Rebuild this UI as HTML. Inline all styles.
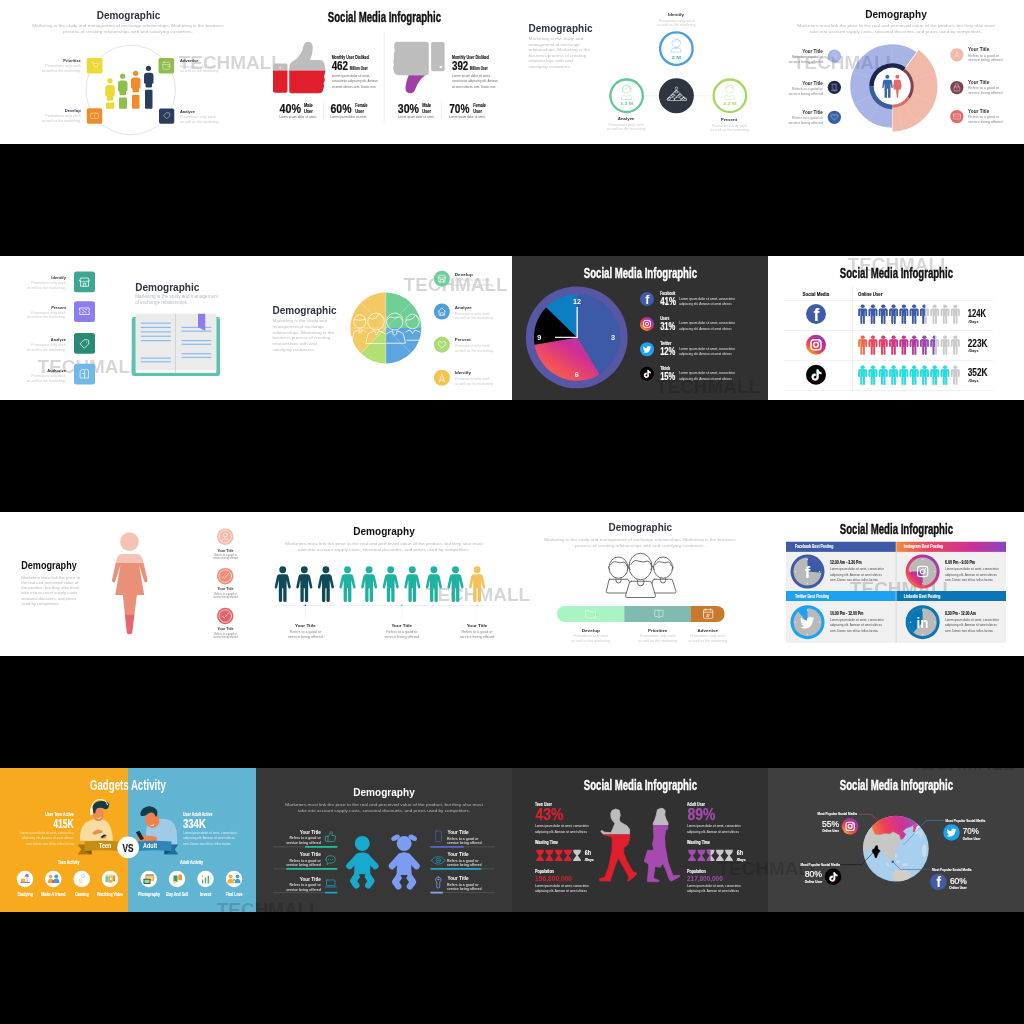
<!DOCTYPE html>
<html lang="en">
<head>
<meta charset="utf-8">
<title>Infographic slides</title>
<style>
html,body{margin:0;padding:0;background:#000;}
body{width:1024px;height:1024px;position:relative;overflow:hidden;font-family:"Liberation Sans",sans-serif;}
.s{position:absolute;width:256px;height:144px;overflow:hidden;display:block;}
svg text{font-family:"Liberation Sans",sans-serif;}
.b{font-weight:bold;}
.m{text-anchor:middle;}
.e{text-anchor:end;}
.c{font-weight:bold;}
#wm{position:absolute;left:0;top:0;width:1024px;height:1024px;pointer-events:none;}
</style>
</head>
<body>
<svg width="0" height="0" style="position:absolute">
<defs>
<linearGradient id="igg" x1="0.150" y1="0.950" x2="0.850" y2="0.050"><stop offset="0" stop-color="#fbb045"/><stop offset=".3" stop-color="#f0503c"/><stop offset=".6" stop-color="#d02e86"/><stop offset="1" stop-color="#7a3fc2"/></linearGradient>
<linearGradient id="igh" x1="0" y1="0" x2="1" y2="0"><stop offset="0" stop-color="#f0503c"/><stop offset=".5" stop-color="#d02e86"/><stop offset="1" stop-color="#7a3fc2"/></linearGradient>
<path id="bird" d="M23.953 4.570a10 10 0 01-2.825.775 4.958 4.958 0 002.163-2.723c-.951.555-2.005.959-3.127 1.184a4.920 4.920 0 00-8.384 4.482C7.690 8.095 4.067 6.130 1.640 3.162a4.822 4.822 0 00-.666 2.475c0 1.710.870 3.213 2.188 4.096a4.904 4.904 0 01-2.228-.616v.060a4.923 4.923 0 003.946 4.827 4.996 4.996 0 01-2.212.085 4.936 4.936 0 004.604 3.417 9.867 9.867 0 01-6.102 2.105c-.390 0-.779-.023-1.170-.067a13.995 13.995 0 007.557 2.209c9.053 0 13.998-7.496 13.998-13.985 0-.210 0-.420-.015-.630A9.935 9.935 0 0024 4.590z"/>
<path id="note" d="M12.525.020c1.310-.020 2.610-.010 3.910-.020.080 1.530.630 3.090 1.750 4.170 1.120 1.110 2.700 1.620 4.240 1.790v4.030c-1.440-.050-2.890-.350-4.200-.970-.570-.260-1.100-.590-1.620-.930-.010 2.920.010 5.840-.020 8.750-.080 1.400-.540 2.790-1.350 3.940-1.310 1.920-3.580 3.170-5.910 3.210-1.430.080-2.860-.310-4.080-1.030-2.020-1.190-3.440-3.370-3.650-5.710-.020-.500-.030-1-.010-1.490.180-1.900 1.120-3.720 2.580-4.960 1.660-1.440 3.980-2.130 6.150-1.720.020 1.480-.040 2.960-.040 4.440-.990-.320-2.150-.230-3.020.370-.630.410-1.110 1.040-1.360 1.750-.210.510-.150 1.070-.140 1.610.240 1.640 1.820 3.020 3.500 2.870 1.120-.010 2.190-.660 2.770-1.610.190-.330.400-.670.410-1.060.100-1.790.060-3.570.070-5.360.010-4.030-.010-8.050.020-12.070z"/>
<g id="fb"><circle cx="50" cy="50" r="50" fill="#3f5ba9"/><text x="52" y="84" font-size="88" font-weight="bold" fill="#fff" text-anchor="middle" font-family="Liberation Sans, sans-serif">f</text></g>
<g id="ig"><circle cx="50" cy="50" r="50" fill="url(#igg)"/><rect x="25" y="25" width="50" height="50" rx="14" fill="none" stroke="#fff" stroke-width="7"/><circle cx="50" cy="50" r="12" fill="none" stroke="#fff" stroke-width="7"/><circle cx="65.500" cy="35" r="4" fill="#fff"/></g>
<g id="tw"><circle cx="50" cy="50" r="50" fill="#1da1f2"/><use href="#bird" fill="#fff" transform="translate(20 21) scale(2.500)"/></g>
<g id="tt"><circle cx="50" cy="50" r="50" fill="#000"/><use href="#note" fill="#25f4ee" transform="translate(23 22) scale(2.300)"/><use href="#note" fill="#fe2c55" transform="translate(27 26) scale(2.300)"/><use href="#note" fill="#fff" transform="translate(25 24) scale(2.300)"/></g>
<g id="pers"><ellipse cx="17.750" cy="7.200" rx="8" ry="7.200"/><path d="M6.500 15.500h22.500q6.500 0 6.500 6.500v20.500a3.500 3.500 0 0 1-7 0v-19h-2v50.500a3.700 3.700 0 0 1-7.400 0v-29h-2.700v29a3.700 3.700 0 0 1-7.400 0v-50.500h-2v19a3.500 3.500 0 0 1-7 0v-20.500q0-6.500 6.500-6.500z"/></g>
<g id="man10"><circle cx="0" cy="13.700" r="13.700"/><path d="M-13 31.300H13Q21 31.300 23 40L32 82Q33 88 28 89Q23 90 22 84L15.500 55V137Q15.500 143 9 143Q2.200 143 2.200 137V88H-2.200V137Q-2.200 143-9 143Q-15.500 143-15.500 137V55L-22 84Q-23 90-28 89Q-33 88-32 82L-23 40Q-21 31.300-13 31.300Z"/></g>
</defs>
</svg>
<svg class="s" style="left:0;top:0" viewBox="0 0 1024 576">
<rect width="1024" height="576" fill="#fff"/>
<text x="715.2" y="276.8" font-size="76.8" font-weight="bold" fill="#000" fill-opacity=".16" textLength="416" lengthAdjust="spacingAndGlyphs">TECHMALL</text>
<text x="514" y="75" class="b m" font-size="45" fill="#2d3443" textLength="254" lengthAdjust="spacingAndGlyphs">Demographic</text>
<g font-size="17" fill="#b4b6ba" class="m">
<text x="512" y="107" textLength="766" lengthAdjust="spacingAndGlyphs">Marketing is the study and management of exchange relationships. Marketing is the business</text>
<text x="512" y="131" textLength="520" lengthAdjust="spacingAndGlyphs">process of creating relationships with and satisfying customers.</text>
</g>
<circle cx="523" cy="360" r="179" fill="none" stroke="#c9cbcf" stroke-width="2.200"/>
<rect x="347" y="232" width="63" height="62" rx="7" fill="#edd935"/>
<rect x="634" y="232" width="62" height="62" rx="7" fill="#8fbe4c"/>
<rect x="347" y="433" width="62" height="62" rx="7" fill="#f18b27"/>
<rect x="636" y="434" width="61" height="61" rx="7" fill="#2b3c5e"/>
<g fill="none" stroke="#fff" stroke-width="2.6" stroke-linecap="round" stroke-linejoin="round" opacity=".7">
<path d="M367 250h5l4 16h14l3-12h-18M377 274v1M389 274v1"/>
<rect x="651" y="249" width="28" height="28" rx="5"/><path d="M651 258h28M671 266h8"/>
<rect x="362" y="453" width="32" height="21" rx="4"/><path d="M378 460v7"/>
<path d="M655 462l10-11h11l3 4v9l-11 10z"/>
</g>
<g fill="#ecd934"><circle cx="440" cy="323" r="10.5"/><path d="M421 352a12 12 0 0 1 12-12h14a12 12 0 0 1 12 12v26a6 6 0 0 1-6 6v14a5 5 0 0 1-5 5h-16a5 5 0 0 1-5-5v-14a6 6 0 0 1-6-6z"/><rect x="424" y="410" width="33" height="25" rx="4"/></g>
<g fill="#8fbe4c"><circle cx="490.5" cy="304.500" r="10.5"/><path d="M472 334a12 12 0 0 1 12-12h14a12 12 0 0 1 12 12v26a6 6 0 0 1-6 6v10a5 5 0 0 1-5 5h-16a5 5 0 0 1-5-5v-10a6 6 0 0 1-6-6z"/><rect x="476" y="390" width="32" height="45" rx="4"/></g>
<g fill="#f18b27"><circle cx="542.5" cy="293" r="10.5"/><path d="M524 322a12 12 0 0 1 12-12h14a12 12 0 0 1 12 12v26a6 6 0 0 1-6 6v10a5 5 0 0 1-5 5h-16a5 5 0 0 1-5-5v-10a6 6 0 0 1-6-6z"/><rect x="528" y="379" width="30" height="56" rx="4"/></g>
<g fill="#2b3c5e"><circle cx="594" cy="273" r="10.5"/><path d="M576 303a12 12 0 0 1 12-12h14a12 12 0 0 1 12 12v26a6 6 0 0 1-6 6v10a5 5 0 0 1-5 5h-16a5 5 0 0 1-5-5v-10a6 6 0 0 1-6-6z"/><rect x="580" y="359" width="30" height="76" rx="4"/></g>
<g font-size="16" class="b" fill="#2d3443">
<text x="323" y="247" class="e" textLength="70" lengthAdjust="spacingAndGlyphs">Prioritize</text>
<text x="720" y="248" textLength="74" lengthAdjust="spacingAndGlyphs">Advertise</text>
<text x="323" y="448" class="e" textLength="64" lengthAdjust="spacingAndGlyphs">Develop</text>
<text x="720" y="451" textLength="60" lengthAdjust="spacingAndGlyphs">Analyze</text>
</g>
<g font-size="14" fill="#c6c8cb">
<text x="323" y="268" class="e" textLength="142" lengthAdjust="spacingAndGlyphs">Promotions only work</text>
<text x="323" y="286" class="e" textLength="156" lengthAdjust="spacingAndGlyphs">as well as the marketing.</text>
<text x="720" y="271" textLength="142" lengthAdjust="spacingAndGlyphs">Promotions only work</text>
<text x="720" y="289" textLength="154" lengthAdjust="spacingAndGlyphs">as well as the marketing</text>
<text x="323" y="469" class="e" textLength="142" lengthAdjust="spacingAndGlyphs">Promotions only work</text>
<text x="323" y="487" class="e" textLength="156" lengthAdjust="spacingAndGlyphs">as well as the marketing.</text>
<text x="720" y="473" textLength="142" lengthAdjust="spacingAndGlyphs">Promotions only work</text>
<text x="720" y="491" textLength="154" lengthAdjust="spacingAndGlyphs">as well as the marketing</text>
</g>
</svg>
<svg class="s" style="left:256px;top:0" viewBox="0 0 1024 576">
<defs>
<clipPath id="cu2a"><rect x="0" y="0" width="520" height="281.500"/></clipPath>
<clipPath id="cu2b"><rect x="0" y="281.500" width="520" height="200"/></clipPath>
<g id="tup"><rect x="68" y="254" width="58" height="117" rx="7"/><path d="M141 373H250Q268 373 268 358Q275 345 270 334Q279 320 272 307Q281 285 275 262Q272 240 255 240H216Q228 215 227 190Q226 167 209 167Q195 167 190 185Q182 218 158 238Q133 250 133 270V365Q133 373 141 373Z"/></g>
</defs>
<rect width="1024" height="576" fill="#fff"/>
<text x="-308.8" y="276.8" font-size="76.8" font-weight="bold" fill="#000" fill-opacity=".16" textLength="416" lengthAdjust="spacingAndGlyphs">TECHMALL</text>
<text x="513.500" y="89" class="b m" font-size="59" fill="#111" stroke="#111" stroke-width="1.700" textLength="453" lengthAdjust="spacingAndGlyphs">Social Media Infographic</text>
<rect x="511" y="125" width="2.500" height="365" fill="#e2e2e2"/>
<use href="#tup" fill="#bdbdbd" clip-path="url(#cu2a)"/>
<use href="#tup" fill="#e01f2d" clip-path="url(#cu2b)"/>
<rect x="92" y="266" width="9" height="9" rx="2" fill="#d9d9d9"/>
<g fill="#bdbdbd"><path d="M560 167H680Q691 167 691 178V290Q691 300.500 680 300.500H572Q553 300.500 551 284Q546 270 552 258Q546 243 553 232Q548 215 555 204Q552 190 553 180Q554 167 566 167Z"/><rect x="700.500" y="168" width="54" height="117" rx="7"/></g>
<circle cx="739" cy="267.500" r="5" fill="#fff"/>
<path d="M611 300.500H677Q650 320 638 355Q632 373 616 373Q599 372 598 355Q598 330 611 300.500Z" fill="#a13fa6"/>
<g fill="#111" class="b" stroke="#111" stroke-width=".45">
<text x="302.500" y="235" font-size="20" textLength="149" lengthAdjust="spacingAndGlyphs">Monthly User Disliked</text>
<text x="302.500" y="280" font-size="49" stroke="#111" stroke-width=".7" textLength="66" lengthAdjust="spacingAndGlyphs">462</text>
<text x="375" y="279" font-size="19" textLength="72" lengthAdjust="spacingAndGlyphs">Million User</text>
<text x="784" y="235" font-size="20" textLength="148" lengthAdjust="spacingAndGlyphs">Monthly User Disliked</text>
<text x="784" y="280" font-size="49" stroke="#111" stroke-width=".7" textLength="65" lengthAdjust="spacingAndGlyphs">392</text>
<text x="855" y="279" font-size="19" textLength="72" lengthAdjust="spacingAndGlyphs">Million User</text>
<text x="94" y="450.500" font-size="52" stroke="#111" stroke-width=".7" textLength="86" lengthAdjust="spacingAndGlyphs">40%</text>
<text x="192" y="429" font-size="18" textLength="35" lengthAdjust="spacingAndGlyphs">Male</text>
<text x="192" y="453" font-size="18" textLength="35" lengthAdjust="spacingAndGlyphs">User</text>
<text x="298" y="450.500" font-size="52" stroke="#111" stroke-width=".7" textLength="84" lengthAdjust="spacingAndGlyphs">60%</text>
<text x="397" y="429" font-size="18" textLength="49" lengthAdjust="spacingAndGlyphs">Female</text>
<text x="397" y="453" font-size="18" textLength="35" lengthAdjust="spacingAndGlyphs">User</text>
<text x="567" y="450.500" font-size="52" stroke="#111" stroke-width=".7" textLength="85" lengthAdjust="spacingAndGlyphs">30%</text>
<text x="665" y="429" font-size="18" textLength="35" lengthAdjust="spacingAndGlyphs">Male</text>
<text x="665" y="453" font-size="18" textLength="35" lengthAdjust="spacingAndGlyphs">User</text>
<text x="773" y="450.500" font-size="52" stroke="#111" stroke-width=".7" textLength="81" lengthAdjust="spacingAndGlyphs">70%</text>
<text x="869" y="429" font-size="18" textLength="50" lengthAdjust="spacingAndGlyphs">Female</text>
<text x="869" y="453" font-size="18" textLength="35" lengthAdjust="spacingAndGlyphs">User</text>
</g>
<g fill="#6a6a6a" font-size="12.500">
<text x="302.500" y="306" textLength="154" lengthAdjust="spacingAndGlyphs">Lorem ipsum dolor sit amet,</text>
<text x="302.500" y="329" textLength="185" lengthAdjust="spacingAndGlyphs">consectetur adipiscing elit. Aenean</text>
<text x="302.500" y="352" textLength="176" lengthAdjust="spacingAndGlyphs">sit amet ultrices sem. Donec non</text>
<text x="784" y="306" textLength="154" lengthAdjust="spacingAndGlyphs">Lorem ipsum dolor sit amet,</text>
<text x="784" y="329" textLength="183" lengthAdjust="spacingAndGlyphs">consectetur adipiscing elit. Aenean</text>
<text x="784" y="352" textLength="174" lengthAdjust="spacingAndGlyphs">sit amet ultrices sem. Donec non</text>
<text x="94" y="472" textLength="148" lengthAdjust="spacingAndGlyphs">Lorem ipsum dolor sit amet,</text>
<text x="297" y="472" textLength="147" lengthAdjust="spacingAndGlyphs">Lorem ipsum dolor sit amet,</text>
<text x="567" y="472" textLength="147" lengthAdjust="spacingAndGlyphs">Lorem ipsum dolor sit amet,</text>
<text x="773" y="472" textLength="145" lengthAdjust="spacingAndGlyphs">Lorem ipsum dolor sit amet,</text>
</g>
<g stroke="#b5b5b5" stroke-width="1.500" stroke-dasharray="5 4"><path d="M270.500 406V478M741.500 406V478"/></g>
</svg>
<svg class="s" style="left:512px;top:0" viewBox="0 0 1024 576">
<rect width="1024" height="576" fill="#fff"/>
<text x="66" y="127" class="b" font-size="45" fill="#2d3443" textLength="256" lengthAdjust="spacingAndGlyphs">Demographic</text>
<g font-size="17.500" fill="#b9bbbf">
<text x="66" y="159" textLength="219" lengthAdjust="spacingAndGlyphs">Marketing is the study and</text>
<text x="66" y="182" textLength="205" lengthAdjust="spacingAndGlyphs">management of exchange</text>
<text x="66" y="204" textLength="246" lengthAdjust="spacingAndGlyphs">relationships. Marketing is the</text>
<text x="66" y="227" textLength="231" lengthAdjust="spacingAndGlyphs">business process of creating</text>
<text x="66" y="249" textLength="177" lengthAdjust="spacingAndGlyphs">relationships with and</text>
<text x="66" y="273" textLength="170" lengthAdjust="spacingAndGlyphs">satisfying customers.</text>
</g>
<g stroke="#e3e4e6" stroke-width="2"><path d="M657.500 262V315M527 383H590M726 383H803"/></g>
<circle cx="657.500" cy="194.500" r="65" fill="#fff" stroke="#4d9edb" stroke-width="9.500"/>
<circle cx="458.500" cy="383" r="65" fill="#fff" stroke="#5fca8f" stroke-width="9.500"/>
<circle cx="871.500" cy="383" r="65" fill="#fff" stroke="#a6d860" stroke-width="9.500"/>
<circle cx="657.500" cy="383" r="70" fill="#2f3540"/>
<g fill="none" stroke-width="1.800" stroke-linejoin="round">
<g stroke="#7db7e4"><circle cx="657" cy="172" r="17"/><path d="M638 208v-6q0-8 10-10h18q10 2 10 10v6zM649 190q8 6 16 0M646 166q11-2 13-10q6 8 15 10"/></g>
<g stroke="#93dbb3"><circle cx="458" cy="357" r="16"/><path d="M438 398v-8q0-8 12-11l8 8l8-8q12 3 12 11v8zM443 366q-6-22 12-27q17-4 22 14l-2 14M447 357q12 0 16-10q5 6 12 8"/></g>
<g stroke="#c9e79e"><circle cx="870" cy="357" r="16"/><path d="M849 398v-8q0-8 12-11l9 10l9-10q12 3 12 11v8zM854 352q2-16 16-16q14 0 16 16q-16 2-22-8q-3 6-10 8z"/></g>
<g stroke="#fff" stroke-width="2.200"><path d="M622 402v-8l9-5h10l9 5v8zM650 402v-8l9-5h-3h10l9 5v8zM678 402v-8l9-5h-4h6l9 5v8z"/><path d="M632 386l12-12l12 12M660 386l12-12l12 12M646 372l12-12l12 12M618 398l14-12M698 398l-14-12M644 374l-12 12M672 374l-12 12M658 360l-12 12"/><circle cx="644" cy="381" r="5"/><circle cx="672" cy="381" r="5"/><circle cx="658" cy="367" r="5"/><circle cx="658" cy="353" r="5"/><circle cx="630" cy="394" r="4"/><circle cx="686" cy="394" r="4"/></g>
</g>
<g class="b m" font-size="17">
<text x="657.500" y="236" fill="#4d9edb" textLength="38" lengthAdjust="spacingAndGlyphs">2 M</text>
<text x="458.500" y="421" fill="#5fca8f" textLength="52" lengthAdjust="spacingAndGlyphs">1.3 M</text>
<text x="871.500" y="421" fill="#a6d860" textLength="54" lengthAdjust="spacingAndGlyphs">2.2 M</text>
</g>
<g class="b m" font-size="17" fill="#2d3443">
<text x="656" y="62" textLength="64" lengthAdjust="spacingAndGlyphs">Identify</text>
<text x="456" y="480" textLength="66" lengthAdjust="spacingAndGlyphs">Analyze</text>
<text x="868" y="484" textLength="66" lengthAdjust="spacingAndGlyphs">Present</text>
</g>
<g class="m" font-size="14" fill="#c9cbce">
<text x="659" y="88" textLength="142" lengthAdjust="spacingAndGlyphs">Promotions only work</text>
<text x="657" y="105" textLength="154" lengthAdjust="spacingAndGlyphs">as well as the marketing</text>
<text x="457" y="502" textLength="142" lengthAdjust="spacingAndGlyphs">Promotions only work</text>
<text x="457" y="521" textLength="154" lengthAdjust="spacingAndGlyphs">as well as the marketing</text>
<text x="870" y="507" textLength="142" lengthAdjust="spacingAndGlyphs">Promotions only work</text>
<text x="870" y="525" textLength="154" lengthAdjust="spacingAndGlyphs">as well as the marketing</text>
</g>
</svg>
<svg class="s" style="left:768px;top:0" viewBox="0 0 1024 576">
<rect width="1024" height="576" fill="#fff"/>
<text x="100.0" y="276.8" font-size="76.8" font-weight="bold" fill="#000" fill-opacity=".16" textLength="416" lengthAdjust="spacingAndGlyphs">TECHMALL</text>
<text x="512" y="70" class="b m" font-size="43" fill="#111" textLength="246" lengthAdjust="spacingAndGlyphs">Demography</text>
<g font-size="17" fill="#b4b6ba" class="m">
<text x="512" y="107" textLength="790" lengthAdjust="spacingAndGlyphs">Marketers must link the price to the real and perceived value of the product, but they also must</text>
<text x="512" y="131" textLength="688" lengthAdjust="spacingAndGlyphs">take into account supply costs, seasonal discounts, and prices used by competitors.</text>
</g>
<path d="M496 344L496.0 511.0A167 167 0 1 1 593.2 208.2Z" fill="#3f58c8" fill-opacity=".45"/>
<path d="M498 346L602.8 199.6A180 180 0 0 1 498.0 526.0Z" fill="#f1baa8"/>
<g stroke="#fff" stroke-width="1.200" opacity=".35"><path d="M496 344V177M496 344L340 285M496 344L345 415M496 344L400 480M498 346L670 290M498 346L665 410M498 346L600 495M498 346L540 520"/></g>
<circle cx="497" cy="345" r="75" fill="#fff"/>
<path d="M405.0 345.0A92 92 0 0 1 550.600 270.200L540.100 284.800A74 74 0 0 0 423.0 345.0Z" fill="#1c254a"/>
<path d="M497.0 437.0A92 92 0 0 1 405.0 345.0L423.0 345.0A74 74 0 0 0 497.0 419.0Z" fill="#365f9f"/>
<path d="M547.100 275.100A86 86 0 0 1 567.400 394.300L557.600 387.400A74 74 0 0 0 540.100 284.800Z" fill="#7d444d"/>
<path d="M567.400 394.300A86 86 0 0 1 497.0 431.0L497.0 419.0A74 74 0 0 0 557.600 387.400Z" fill="#df6a6c"/>
<g fill="#3a67a6"><circle cx="477.500" cy="306.500" r="8"/><path d="M466 319h23q6 0 7 6l3 27h-5l-4-20v59h-10v-36h-4v36h-10v-59l-4 20h-5l3-27q1-6 7-6z"/></g>
<g fill="#e26a6a"><circle cx="517.500" cy="306.500" r="8"/><path d="M509 319h17q4 0 5 5l4 26h-4l-4-18l6 26h-10l-3 33h-5l-3-33h-10l6-26l-4 18h-4l4-26q1-5 5-5z"/></g>
<circle cx="265.500" cy="224.500" r="26.500" fill="#3f58c8" fill-opacity=".45"/>
<circle cx="265.500" cy="349.500" r="26.500" fill="#1c254a"/>
<circle cx="265.500" cy="469" r="26.500" fill="#365f9f"/>
<circle cx="755.500" cy="219" r="26.500" fill="#f1baa8"/>
<circle cx="755.500" cy="350" r="26.500" fill="#7d444d"/>
<circle cx="755.500" cy="466" r="26.500" fill="#df6a6c"/>
<g fill="none" stroke="#fff" stroke-width="2" stroke-linejoin="round" stroke-linecap="round" opacity=".85">
<path d="M265.500 208a10 10 0 0 1 6 18v6h-12v-6a10 10 0 0 1 6-18zM262 222l3.500 5l3.500-5" opacity=".7"/>
<path d="M258 337h15v20l4 4h-23l4-4zM262 363h7"/>
<path d="M265.500 461q8-9 14 0q3 7-14 19q-17-12-14-19q6-9 14 0z"/>
<path d="M747 231l8.500-24l8.500 24M750 224h11" opacity=".8"/>
<rect x="744" y="347" width="23" height="17" rx="3"/><path d="M749 347v-5a6.500 6.500 0 0 1 13 0v5M755.500 353v5"/>
<rect x="741" y="456" width="29" height="20" rx="3"/><path d="M741 460l7 6h15l7-6"/>
</g>
<g class="b" font-size="19.500" fill="#2c2c2e">
<text x="219" y="210.500" class="e" textLength="82" lengthAdjust="spacingAndGlyphs">Your Title</text>
<text x="219" y="339" class="e" textLength="82" lengthAdjust="spacingAndGlyphs">Your Title</text>
<text x="219" y="455.500" class="e" textLength="82" lengthAdjust="spacingAndGlyphs">Your Title</text>
<text x="800" y="203.500" textLength="85" lengthAdjust="spacingAndGlyphs">Your Title</text>
<text x="800" y="335" textLength="85" lengthAdjust="spacingAndGlyphs">Your Title</text>
<text x="800" y="450" textLength="85" lengthAdjust="spacingAndGlyphs">Your Title</text>
</g>
<g font-size="14" fill="#85878c">
<text x="219" y="233" class="e" textLength="123" lengthAdjust="spacingAndGlyphs">Refers to a good or</text>
<text x="219" y="252" class="e" textLength="137" lengthAdjust="spacingAndGlyphs">service being offered</text>
<text x="219" y="361" class="e" textLength="123" lengthAdjust="spacingAndGlyphs">Refers to a good or</text>
<text x="219" y="380" class="e" textLength="137" lengthAdjust="spacingAndGlyphs">service being offered</text>
<text x="219" y="477" class="e" textLength="123" lengthAdjust="spacingAndGlyphs">Refers to a good or</text>
<text x="219" y="496" class="e" textLength="137" lengthAdjust="spacingAndGlyphs">service being offered</text>
<text x="800" y="226" textLength="124" lengthAdjust="spacingAndGlyphs">Refers to a good or</text>
<text x="800" y="245" textLength="138" lengthAdjust="spacingAndGlyphs">service being offered</text>
<text x="800" y="357" textLength="124" lengthAdjust="spacingAndGlyphs">Refers to a good or</text>
<text x="800" y="375" textLength="138" lengthAdjust="spacingAndGlyphs">service being offered</text>
<text x="800" y="472" textLength="124" lengthAdjust="spacingAndGlyphs">Refers to a good or</text>
<text x="800" y="491" textLength="138" lengthAdjust="spacingAndGlyphs">service being offered</text>
</g>
</svg>
<svg class="s" style="left:0;top:256px" viewBox="0 0 1024 576">
<rect width="1024" height="576" fill="#fff"/>
<text x="150.4" y="466.8" font-size="76.8" font-weight="bold" fill="#000" fill-opacity=".16" textLength="416" lengthAdjust="spacingAndGlyphs">TECHMALL</text>
<rect x="296" y="62" width="84" height="83" rx="10" fill="#3da793"/>
<rect x="296" y="180.500" width="84" height="83" rx="10" fill="#8b7cf0"/>
<rect x="296" y="308" width="84" height="83" rx="10" fill="#2a8a75"/>
<rect x="296" y="430.500" width="84" height="83" rx="10" fill="#72b8e6"/>
<g fill="none" stroke="#fff" stroke-width="3" stroke-linejoin="round" stroke-linecap="round">
<path d="M322 99v22h32v-22M318 99l5-11h30l5 11q-3 5-8 2q-4 4-8 0q-4 4-8 0q-4 4-8 0q-5 3-8-2zM333 121v-12h10v12"/>
<path d="M319 208h38v9q-5 3 0 8v9h-38v-9q5-4 0-8zM328 214l18 14M329 227h4M342 215h5"/>
<path d="M322 350l14-15h14q4 0 5 5v12l-16 15q-3 2-5 0zM346 344v1"/>
<path d="M322 458l8-5q8 6 16 0l8 5v30h-32zM338 460v28M330 470h5" opacity=".9"/>
</g>
<g class="b e" font-size="16.500" fill="#2d3443">
<text x="264" y="92" textLength="59" lengthAdjust="spacingAndGlyphs">Identify</text>
<text x="264" y="210.500" textLength="59" lengthAdjust="spacingAndGlyphs">Present</text>
<text x="264" y="339.500" textLength="61" lengthAdjust="spacingAndGlyphs">Analyze</text>
<text x="264" y="463" textLength="75" lengthAdjust="spacingAndGlyphs">Authorize</text>
</g>
<g class="e" font-size="14" fill="#c9cbce">
<text x="262.500" y="113" textLength="138" lengthAdjust="spacingAndGlyphs">Promotions only work</text>
<text x="262.500" y="131" textLength="156" lengthAdjust="spacingAndGlyphs">as well as the marketing.</text>
<text x="262.500" y="231" textLength="138" lengthAdjust="spacingAndGlyphs">Promotions only work</text>
<text x="262.500" y="249" textLength="156" lengthAdjust="spacingAndGlyphs">as well as the marketing.</text>
<text x="262.500" y="360" textLength="138" lengthAdjust="spacingAndGlyphs">Promotions only work</text>
<text x="262.500" y="378" textLength="156" lengthAdjust="spacingAndGlyphs">as well as the marketing.</text>
<text x="262.500" y="483" textLength="138" lengthAdjust="spacingAndGlyphs">Promotions only work</text>
<text x="262.500" y="502" textLength="156" lengthAdjust="spacingAndGlyphs">as well as the marketing.</text>
</g>
<text x="541" y="140" class="b" font-size="45" fill="#2d3443" textLength="256" lengthAdjust="spacingAndGlyphs">Demographic</text>
<g font-size="18.500" fill="#b9bbbf">
<text x="541" y="169" textLength="331" lengthAdjust="spacingAndGlyphs">Marketing is the study and management</text>
<text x="541" y="193" textLength="211" lengthAdjust="spacingAndGlyphs">of exchange relationships.</text>
</g>
<rect x="527" y="244" width="353" height="236" rx="9" fill="#5ec2b2"/>
<rect x="543" y="230.500" width="322" height="237" fill="#fff"/>
<rect x="543" y="230.500" width="322" height="227" fill="#ebebeb"/>
<rect x="701" y="230.500" width="2" height="237" fill="#bdbdbd"/>
<g stroke="#dce9f5" stroke-width="8"><path d="M563 268.500H683M563 285.500H683M563 303.500H683M563 321H683M563 338.500H683M563 408.500H683M563 423H683M726 285.500H845M726 300.500H845M726 338.500H845M726 353H845M726 391H845M726 405.500H845"/></g>
<g stroke="#7aafe0" stroke-width="3.600"><path d="M563 268.500H683M563 285.500H683M563 303.500H683M563 321H683M563 338.500H683M563 408.500H683M563 423H683M726 285.500H845M726 300.500H845M726 338.500H845M726 353H845M726 391H845M726 405.500H845"/></g>
<path d="M792 230.500H821V298.500L792 285Z" fill="#8b7cf0"/>
</svg>
<svg class="s" style="left:256px;top:256px" viewBox="0 0 1024 576">
<rect width="1024" height="576" fill="#fff"/>
<text x="590.4" y="139.2" font-size="76.8" font-weight="bold" fill="#000" fill-opacity=".16" textLength="416" lengthAdjust="spacingAndGlyphs">TECHMALL</text>
<text x="66" y="233" class="b" font-size="45" fill="#2d3443" textLength="256" lengthAdjust="spacingAndGlyphs">Demographic</text>
<g font-size="17.500" fill="#b9bbbf">
<text x="66" y="264" textLength="219" lengthAdjust="spacingAndGlyphs">Marketing is the study and</text>
<text x="66" y="288" textLength="205" lengthAdjust="spacingAndGlyphs">management of exchange</text>
<text x="66" y="310" textLength="246" lengthAdjust="spacingAndGlyphs">relationships. Marketing is the</text>
<text x="66" y="333" textLength="231" lengthAdjust="spacingAndGlyphs">business process of creating</text>
<text x="66" y="356" textLength="177" lengthAdjust="spacingAndGlyphs">relationships with and</text>
<text x="66" y="379" textLength="170" lengthAdjust="spacingAndGlyphs">satisfying customers.</text>
</g>
<path d="M519.500 288L419.100 388.400A142 142 0 0 1 519.500 146.0Z" fill="#f3c963"/>
<path d="M519.500 288L519.500 146.0A142 142 0 0 1 661.500 288.0Z" fill="#70cf98"/>
<path d="M519.500 288L661.500 288.0A142 142 0 0 1 519.500 430.0Z" fill="#5ba5e0"/>
<path d="M519.500 288L519.500 430.0A142 142 0 0 1 419.100 388.400Z" fill="#b3e072"/>
<g stroke="#fff" stroke-width="2" opacity=".5"><path d="M519.500 146V430M419 187.500L620 388.500M620 187.500L419 388.500M378 288H519"/></g>
<g fill="none" stroke="#fffbe8" stroke-width="3.500" stroke-linejoin="round" opacity=".9">
<path d="M391 262a24 27 0 0 1 48 0a24 27 0 0 1-48 0zM393 254q22 6 44 0M385 337l6-32q14-8 22-10v10q2 8 8 0v-10q10 3 20 9"/>
<path d="M447 262a33 34 0 0 1 66 0a33 34 0 0 1-66 0zM452 250q30 8 42-22q8 14 18 22M439 350l9-38q16-10 26-13l8 18l8-18q14 4 26 12M439 350h79"/>
<path d="M522 262a33 34 0 0 1 66 0a33 34 0 0 1-66 0zM524 256q6-10 14-12q20 8 36 0q8 4 12 14M521 312q16-10 26-13v12q8 12 16 0v-12q14 4 26 12l9 38h-77"/>
<path d="M599 262a27 29 0 0 1 54 0a27 29 0 0 1-54 0zM600 256q28 2 38-20q8 10 14 18M598 305q8-6 18-9l10 14l10-14q12 4 22 10M601 337h56"/>
</g>
<circle cx="743.500" cy="90.500" r="32" fill="#70cf98"/>
<circle cx="743.500" cy="222" r="32" fill="#4d9edb"/>
<circle cx="743.500" cy="354.500" r="32" fill="#a9dc72"/>
<circle cx="743.500" cy="487" r="32" fill="#f3c451"/>
<g fill="none" stroke="#fff" stroke-width="2.600" stroke-linejoin="round" stroke-linecap="round">
<path d="M729 86l3-9h23l3 9zM731 86v18h25v-18M737 104v-10h13v10"/>
<path d="M729 222l14.500-14l14.500 14M732 220v17h23v-17M738 237v-10h11v10"/>
<path d="M743.500 346q8-10 15-1q4 9-15 23q-19-14-15-23q7-9 15 1z"/>
<path d="M733 503l10.500-32l10.500 32l-10.500-8z"/>
</g>
<g class="b" font-size="17" fill="#2d3443">
<text x="795" y="78" textLength="72" lengthAdjust="spacingAndGlyphs">Develop</text>
<text x="795" y="211" textLength="68" lengthAdjust="spacingAndGlyphs">Analyze</text>
<text x="795" y="341.500" textLength="64" lengthAdjust="spacingAndGlyphs">Present</text>
<text x="795" y="473" textLength="65" lengthAdjust="spacingAndGlyphs">Identify</text>
</g>
<g font-size="14" fill="#c9cbce">
<text x="795" y="101" textLength="140" lengthAdjust="spacingAndGlyphs">Promotions only work</text>
<text x="795" y="119.500" textLength="153" lengthAdjust="spacingAndGlyphs">as well as the marketing</text>
<text x="795" y="234" textLength="140" lengthAdjust="spacingAndGlyphs">Promotions only work</text>
<text x="795" y="252" textLength="153" lengthAdjust="spacingAndGlyphs">as well as the marketing</text>
<text x="795" y="364" textLength="140" lengthAdjust="spacingAndGlyphs">Promotions only work</text>
<text x="795" y="382.500" textLength="153" lengthAdjust="spacingAndGlyphs">as well as the marketing</text>
<text x="795" y="494" textLength="140" lengthAdjust="spacingAndGlyphs">Promotions only work</text>
<text x="795" y="514" textLength="153" lengthAdjust="spacingAndGlyphs">as well as the marketing</text>
</g>
</svg>
<svg class="s" style="left:512px;top:256px" viewBox="0 0 1024 576">
<defs><linearGradient id="g7" x1="0.100" y1="0.900" x2="0.900" y2="0.100"><stop offset="0" stop-color="#fb6a45"/><stop offset=".35" stop-color="#ee4a62"/><stop offset=".7" stop-color="#cc2f96"/><stop offset="1" stop-color="#b03aa8"/></linearGradient></defs>
<rect width="1024" height="576" fill="#313131"/>
<text x="576.0" y="546.4" font-size="76.8" font-weight="bold" fill="#000" fill-opacity=".16" textLength="416" lengthAdjust="spacingAndGlyphs">TECHMALL</text>
<text x="513.500" y="89" class="b m" font-size="59" fill="#fff" stroke="#fff" stroke-width="1.700" textLength="453" lengthAdjust="spacingAndGlyphs">Social Media Infographic</text>
<circle cx="259" cy="325.500" r="203.500" fill="#5757a4"/>
<path d="M260.750 325.700L260.800 152.700A173 173 0 0 1 350.100 473.800Z" fill="#3c5aa6"/>
<path d="M260.750 325.700L350.100 473.800A173 173 0 0 1 90.200 354.600Z" fill="url(#g7)"/>
<path d="M260.750 325.700L90.200 354.600A173 173 0 0 1 136.900 204.900Z" fill="#000"/>
<path d="M260.750 325.700L136.900 204.900A173 173 0 0 1 260.700 152.700Z" fill="#0b7ec4"/>
<path d="M260.750 204V325.700H172" fill="none" stroke="#f2f2f2" stroke-width="5.500"/>
<g class="b m" font-size="29" fill="#fff">
<text x="260" y="192">12</text><text x="404.500" y="335">3</text><text x="259" y="484">6</text><text x="109.500" y="335">9</text>
</g>
<use href="#fb" transform="translate(512 144) scale(.56)"/>
<use href="#ig" transform="translate(512 243.500) scale(.56)"/>
<use href="#tw" transform="translate(512 345) scale(.56)"/>
<use href="#tt" transform="translate(512 442.500) scale(.56)"/>
<g class="b" fill="#fff">
<g font-size="18" stroke="#fff" stroke-width=".45">
<text x="592.500" y="157" textLength="61" lengthAdjust="spacingAndGlyphs">Facebook</text>
<text x="592.500" y="255" textLength="37" lengthAdjust="spacingAndGlyphs">Users</text>
<text x="592.500" y="355.500" textLength="45" lengthAdjust="spacingAndGlyphs">Twitter</text>
<text x="592.500" y="455.500" textLength="40" lengthAdjust="spacingAndGlyphs">Tiktok</text>
</g>
<g font-size="42" stroke="#fff" stroke-width=".6">
<text x="592.500" y="196" textLength="63" lengthAdjust="spacingAndGlyphs">41%</text>
<text x="592.500" y="295" textLength="61" lengthAdjust="spacingAndGlyphs">31%</text>
<text x="592.500" y="395.500" textLength="61" lengthAdjust="spacingAndGlyphs">12%</text>
<text x="592.500" y="494" textLength="61" lengthAdjust="spacingAndGlyphs">15%</text>
</g>
</g>
<g font-size="12.500" fill="#e4e4e4">
<text x="669" y="175" textLength="223" lengthAdjust="spacingAndGlyphs">Lorem ipsum dolor sit amet, consectetur</text>
<text x="669" y="196" textLength="210" lengthAdjust="spacingAndGlyphs">adipiscing elit. Aenean sit amet ultrices</text>
<text x="669" y="273.500" textLength="223" lengthAdjust="spacingAndGlyphs">Lorem ipsum dolor sit amet, consectetur</text>
<text x="669" y="295" textLength="210" lengthAdjust="spacingAndGlyphs">adipiscing elit. Aenean sit amet ultrices</text>
<text x="669" y="374.500" textLength="223" lengthAdjust="spacingAndGlyphs">Lorem ipsum dolor sit amet, consectetur</text>
<text x="669" y="395.500" textLength="210" lengthAdjust="spacingAndGlyphs">adipiscing elit. Aenean sit amet ultrices</text>
<text x="669" y="473" textLength="223" lengthAdjust="spacingAndGlyphs">Lorem ipsum dolor sit amet, consectetur</text>
<text x="669" y="494" textLength="210" lengthAdjust="spacingAndGlyphs">adipiscing elit. Aenean sit amet ultrices</text>
</g>
</svg>
<svg class="s" style="left:768px;top:256px" viewBox="0 0 1024 576">
<defs><clipPath id="c8a"><rect x="350" y="180" width="277.700" height="110"/></clipPath><clipPath id="c8b"><rect x="350" y="300" width="318" height="110"/></clipPath><clipPath id="c8c"><rect x="350" y="420" width="375" height="110"/></clipPath><linearGradient id="g8" gradientUnits="userSpaceOnUse" x1="360" y1="400" x2="668" y2="320"><stop offset="0" stop-color="#f7923a"/><stop offset=".18" stop-color="#ee4a55"/><stop offset=".55" stop-color="#d02e8c"/><stop offset="1" stop-color="#8450c4"/></linearGradient><mask id="m8" maskUnits="userSpaceOnUse" x="350" y="300" width="330" height="110"><g fill="#fff"><use href="#pers" x="360.8" y="317.5"/><use href="#pers" x="402.0" y="317.5"/><use href="#pers" x="443.2" y="317.5"/><use href="#pers" x="484.4" y="317.5"/><use href="#pers" x="525.6" y="317.5"/><use href="#pers" x="566.8" y="317.5"/><use href="#pers" x="608.0" y="317.5"/><use href="#pers" x="649.2" y="317.5"/><use href="#pers" x="690.4" y="317.5"/><use href="#pers" x="731.6" y="317.5"/></g></mask></defs>
<rect width="1024" height="576" fill="#fff"/>
<text x="318.4" y="61.2" font-size="76.8" font-weight="bold" fill="#000" fill-opacity=".16" textLength="416" lengthAdjust="spacingAndGlyphs">TECHMALL</text>
<text x="513.500" y="89" class="b m" font-size="59" fill="#111" stroke="#111" stroke-width="1.700" textLength="453" lengthAdjust="spacingAndGlyphs">Social Media Infographic</text>
<g fill="#e6e6e6"><rect x="65" y="176.500" width="835" height="2.500"/><rect x="65" y="296.500" width="835" height="2.500"/><rect x="65" y="416" width="835" height="2.500"/><rect x="65" y="536" width="835" height="2.500"/><rect x="337" y="118" width="2.500" height="420"/></g>
<g class="b" font-size="19" fill="#111" stroke="#111" stroke-width=".4"><text x="138" y="161" textLength="107" lengthAdjust="spacingAndGlyphs">Social Media</text><text x="360" y="161" textLength="98" lengthAdjust="spacingAndGlyphs">Online User</text></g>
<use href="#fb" transform="translate(152 192) scale(.8)"/><use href="#ig" transform="translate(152 315) scale(.8)"/><use href="#tt" transform="translate(152 435) scale(.8)"/>
<g fill="#c9c9c9"><use href="#pers" x="360.8" y="194"/><use href="#pers" x="402.0" y="194"/><use href="#pers" x="443.2" y="194"/><use href="#pers" x="484.4" y="194"/><use href="#pers" x="525.6" y="194"/><use href="#pers" x="566.8" y="194"/><use href="#pers" x="608.0" y="194"/><use href="#pers" x="649.2" y="194"/><use href="#pers" x="690.4" y="194"/><use href="#pers" x="731.6" y="194"/><use href="#pers" x="360.8" y="317.5"/><use href="#pers" x="402.0" y="317.5"/><use href="#pers" x="443.2" y="317.5"/><use href="#pers" x="484.4" y="317.5"/><use href="#pers" x="525.6" y="317.5"/><use href="#pers" x="566.8" y="317.5"/><use href="#pers" x="608.0" y="317.5"/><use href="#pers" x="649.2" y="317.5"/><use href="#pers" x="690.4" y="317.5"/><use href="#pers" x="731.6" y="317.5"/><use href="#pers" x="360.8" y="437.8"/><use href="#pers" x="402.0" y="437.8"/><use href="#pers" x="443.2" y="437.8"/><use href="#pers" x="484.4" y="437.8"/><use href="#pers" x="525.6" y="437.8"/><use href="#pers" x="566.8" y="437.8"/><use href="#pers" x="608.0" y="437.8"/><use href="#pers" x="649.2" y="437.8"/><use href="#pers" x="690.4" y="437.8"/><use href="#pers" x="731.6" y="437.8"/></g>
<g fill="#3c5aa6" clip-path="url(#c8a)"><use href="#pers" x="360.8" y="194"/><use href="#pers" x="402.0" y="194"/><use href="#pers" x="443.2" y="194"/><use href="#pers" x="484.4" y="194"/><use href="#pers" x="525.6" y="194"/><use href="#pers" x="566.8" y="194"/><use href="#pers" x="608.0" y="194"/><use href="#pers" x="649.2" y="194"/><use href="#pers" x="690.4" y="194"/><use href="#pers" x="731.6" y="194"/></g>
<rect x="350" y="310" width="318" height="95" fill="url(#g8)" mask="url(#m8)"/>
<g fill="#1fe0de" clip-path="url(#c8c)"><use href="#pers" x="360.8" y="437.8"/><use href="#pers" x="402.0" y="437.8"/><use href="#pers" x="443.2" y="437.8"/><use href="#pers" x="484.4" y="437.8"/><use href="#pers" x="525.6" y="437.8"/><use href="#pers" x="566.8" y="437.8"/><use href="#pers" x="608.0" y="437.8"/><use href="#pers" x="649.2" y="437.8"/><use href="#pers" x="690.4" y="437.8"/><use href="#pers" x="731.6" y="437.8"/></g>
<g class="b" fill="#111"><g font-size="46" stroke="#111" stroke-width=".6"><text x="799" y="245" textLength="73" lengthAdjust="spacingAndGlyphs">124K</text><text x="799" y="362.500" textLength="79" lengthAdjust="spacingAndGlyphs">223K</text><text x="799" y="481" textLength="79" lengthAdjust="spacingAndGlyphs">352K</text></g>
<g font-size="15"><text x="802" y="266.500" textLength="40" lengthAdjust="spacingAndGlyphs">/Days</text><text x="802" y="383" textLength="40" lengthAdjust="spacingAndGlyphs">/Days</text><text x="802" y="502" textLength="40" lengthAdjust="spacingAndGlyphs">/Days</text></g></g>
</svg>
<svg class="s" style="left:0;top:512px" viewBox="0 0 1024 576">
<defs>
<path id="wom" d="M491 167.500H545Q566 167.500 571 190L590 272Q591 281 584 282Q578 282 576 275L556 210L577 331.600H547.600L529 482Q528 489 518 489Q508 489 507 482L491.400 331.600H461L482 210L462 275Q460 282 454 282Q447 281 448 272L466 190Q471 167.500 491 167.500Z"/>
<clipPath id="c9a"><rect x="400" y="150" width="240" height="52.700"/></clipPath>
<clipPath id="c9b"><rect x="400" y="202.700" width="240" height="206.300"/></clipPath>
<clipPath id="c9c"><rect x="400" y="409" width="240" height="100"/></clipPath>
</defs>
<rect width="1024" height="576" fill="#fff"/>
<text x="85" y="227" class="b" font-size="40.500" fill="#111" textLength="222" lengthAdjust="spacingAndGlyphs">Demography</text>
<g font-size="16.500" fill="#b4b6ba">
<text x="85" y="266" textLength="235" lengthAdjust="spacingAndGlyphs">Marketers must link the price to</text>
<text x="85" y="287" textLength="228" lengthAdjust="spacingAndGlyphs">the real and perceived value of</text>
<text x="85" y="308" textLength="232" lengthAdjust="spacingAndGlyphs">the product, but they also must</text>
<text x="85" y="329" textLength="228" lengthAdjust="spacingAndGlyphs">take into account supply costs,</text>
<text x="85" y="350" textLength="220" lengthAdjust="spacingAndGlyphs">seasonal discounts, and prices</text>
<text x="85" y="371" textLength="153" lengthAdjust="spacingAndGlyphs">used by competitors.</text>
</g>
<circle cx="518" cy="118.500" r="37.500" fill="#f4c3b5"/>
<use href="#wom" fill="#f4c3b5" clip-path="url(#c9a)"/>
<use href="#wom" fill="#ea9079" clip-path="url(#c9b)"/>
<use href="#wom" fill="#e8656f" clip-path="url(#c9c)"/>
<circle cx="901" cy="98.500" r="33" fill="#f4baa9"/>
<circle cx="901" cy="256.500" r="33" fill="#ec8e78"/>
<circle cx="901" cy="416" r="33" fill="#e3646b"/>
<g fill="none" stroke="#fff" stroke-width="2.600" stroke-linecap="round" stroke-linejoin="round" opacity=".9">
<circle cx="901" cy="98.500" r="25"/><circle cx="901" cy="92" r="8"/><path d="M887 113q14-12 28 0"/>
<circle cx="901" cy="256.500" r="25"/><path d="M888 257l9 10l18-22"/>
<circle cx="901" cy="416" r="25"/><path d="M888 417l9 6l18-20"/>
</g>
<g class="b m" font-size="16" fill="#2d3443">
<text x="902" y="159" textLength="65" lengthAdjust="spacingAndGlyphs">Your Title</text>
<text x="902" y="313" textLength="65" lengthAdjust="spacingAndGlyphs">Your Title</text>
<text x="902" y="473" textLength="65" lengthAdjust="spacingAndGlyphs">Your Title</text>
</g>
<g class="m" font-size="10.500" fill="#85878c">
<text x="902" y="175.500" textLength="91" lengthAdjust="spacingAndGlyphs">Refers to a good or</text>
<text x="902" y="188.500" textLength="98" lengthAdjust="spacingAndGlyphs">service being offered</text>
<text x="902" y="330.500" textLength="91" lengthAdjust="spacingAndGlyphs">Refers to a good or</text>
<text x="902" y="344" textLength="98" lengthAdjust="spacingAndGlyphs">service being offered</text>
<text x="902" y="491" textLength="91" lengthAdjust="spacingAndGlyphs">Refers to a good or</text>
<text x="902" y="503.500" textLength="98" lengthAdjust="spacingAndGlyphs">service being offered</text>
</g>
</svg>
<svg class="s" style="left:256px;top:512px" viewBox="0 0 1024 576">
<rect width="1024" height="576" fill="#fff"/>
<text x="680.0" y="357.2" font-size="76.8" font-weight="bold" fill="#000" fill-opacity=".16" textLength="416" lengthAdjust="spacingAndGlyphs">TECHMALL</text>
<text x="512" y="92" class="b m" font-size="42" fill="#111" textLength="246" lengthAdjust="spacingAndGlyphs">Demography</text>
<g font-size="17" fill="#b4b6ba" class="m">
<text x="512" y="131" textLength="790" lengthAdjust="spacingAndGlyphs">Marketers must link the price to the real and perceived value of the product, but they also must</text>
<text x="512" y="155" textLength="688" lengthAdjust="spacingAndGlyphs">take into account supply costs, seasonal discounts, and prices used by competitors.</text>
</g>
<g fill="#0f4a59"><use href="#man10" x="106.8" y="217.300"/><use href="#man10" x="193.2" y="217.300"/><use href="#man10" x="279.6" y="217.300"/></g>
<g fill="#1fb2a0"><use href="#man10" x="366.0" y="217.300"/><use href="#man10" x="452.4" y="217.300"/><use href="#man10" x="538.8" y="217.300"/><use href="#man10" x="625.2" y="217.300"/><use href="#man10" x="711.6" y="217.300"/><use href="#man10" x="798.0" y="217.300"/></g>
<g fill="#f5c15c"><use href="#man10" x="884.4" y="217.300"/></g>
<g fill="#dfe1e3"><rect x="75" y="372" width="241" height="2"/><rect x="335" y="372" width="496" height="2"/><rect x="853" y="372" width="63" height="2"/></g>
<g stroke-width="1.500" stroke-dasharray="4 4" fill="none"><path d="M197.500 378V430" stroke="#c5d2d5"/><path d="M583 378V430" stroke="#bfe6e0"/><path d="M884 378V430" stroke="#f6e3b8"/></g>
<circle cx="197.500" cy="373" r="3" fill="#0f4a59"/><circle cx="583" cy="373" r="3" fill="#1fb2a0"/><circle cx="884" cy="373" r="3" fill="#f5c15c"/>
<g class="b m" font-size="17" fill="#2a2a2c">
<text x="197.500" y="459.500" textLength="83" lengthAdjust="spacingAndGlyphs">Your Title</text>
<text x="583" y="459.500" textLength="83" lengthAdjust="spacingAndGlyphs">Your Title</text>
<text x="884" y="459.500" textLength="83" lengthAdjust="spacingAndGlyphs">Your Title</text>
</g>
<g class="m" font-size="14" fill="#85878c">
<text x="197.5" y="485" textLength="125" lengthAdjust="spacingAndGlyphs">Refers to a good or</text>
<text x="197.5" y="502.500" textLength="139" lengthAdjust="spacingAndGlyphs">service being offered</text>
<text x="583" y="485" textLength="125" lengthAdjust="spacingAndGlyphs">Refers to a good or</text>
<text x="583" y="502.500" textLength="139" lengthAdjust="spacingAndGlyphs">service being offered</text>
<text x="884" y="485" textLength="125" lengthAdjust="spacingAndGlyphs">Refers to a good or</text>
<text x="884" y="502.500" textLength="139" lengthAdjust="spacingAndGlyphs">service being offered</text>
</g>
</svg>
<svg class="s" style="left:512px;top:512px" viewBox="0 0 1024 576">
<defs><clipPath id="c11"><rect x="180" y="376" width="671" height="64" rx="32"/></clipPath></defs>
<rect width="1024" height="576" fill="#fff"/>
<text x="-344.0" y="357.2" font-size="76.8" font-weight="bold" fill="#000" fill-opacity=".16" textLength="416" lengthAdjust="spacingAndGlyphs">TECHMALL</text>
<text x="513" y="77" class="b m" font-size="45" fill="#2d3443" textLength="254" lengthAdjust="spacingAndGlyphs">Demographic</text>
<g font-size="17" fill="#b9bbbf" class="m">
<text x="512" y="117" textLength="766" lengthAdjust="spacingAndGlyphs">Marketing is the study and management of exchange relationships. Marketing is the business</text>
<text x="512" y="140" textLength="520" lengthAdjust="spacingAndGlyphs">process of creating relationships with and satisfying customers.</text>
</g>
<g fill="#fff" stroke="#5e5e5e" stroke-width="3.600" stroke-linejoin="round" stroke-linecap="round">
<path d="M391 269h70q5 1 7 7l13 42q1 6-5 6h-92q-8 0-7-6l10-42q1-6 4-7z"/>
<path d="M416 266v8a10 10 0 0 0 20 0v-8" fill="none"/>
<ellipse cx="426" cy="222.500" rx="38" ry="42.500"/>
<path d="M391 232q-6-4-4-14M461 232q6-4 4-14M394 212q10-18 24-12q16 6 30 0q10 4 12 16" fill="none"/>
<path d="M569 269h70q3 1 4 7l13 42q1 6-7 6h-92q-6 0-5-6l10-42q2-6 7-7z"/>
<path d="M594 266v8a10 10 0 0 0 20 0v-8" fill="none"/>
<ellipse cx="604.500" cy="222.500" rx="38" ry="42.500"/>
<path d="M569 232q-6-4-4-14M640 232q6-4 4-14M572 212q10-18 24-12q16 6 30 0q10 4 12 16" fill="none"/>
<path d="M478 277h72q7 1 9 8l15 50q1 7-7 7h-106q-8 0-7-7l15-50q2-7 9-8z"/>
<path d="M502 273v10a12.500 12.500 0 0 0 25 0v-10" fill="none"/>
<ellipse cx="514" cy="218" rx="46" ry="53"/>
<path d="M472 230q-6-6-4-18M556 230q6-6 4-18M476 210q12-22 28-14q20 8 40 0q12 4 14 20" fill="none"/>
</g>
<g clip-path="url(#c11)"><rect x="180" y="376" width="269" height="64" fill="#a9f4c2"/><rect x="449" y="376" width="267" height="64" fill="#81bab1"/><rect x="716" y="376" width="135" height="64" fill="#c9792b"/></g>
<g fill="none" stroke="#fff" stroke-width="2.600" stroke-linejoin="round" stroke-linecap="round">
<path d="M296 394h12l4 5h22v24h-38z" opacity=".7"/>
<path d="M572 393h32v24q-10 0-16 5q-6-5-16-5zM588 393v28" opacity=".75"/>
<rect x="766" y="391" width="37" height="34" rx="3"/><path d="M766 401h37M775 387v7M794 387v7"/>
</g>
<text x="784.500" y="419" class="b m" font-size="13" fill="#fff">27</text>
<g class="b m" font-size="17" fill="#2d3443">
<text x="315" y="478" textLength="73" lengthAdjust="spacingAndGlyphs">Develop</text>
<text x="582.500" y="478" textLength="78" lengthAdjust="spacingAndGlyphs">Prioritize</text>
<text x="783" y="478" textLength="82" lengthAdjust="spacingAndGlyphs">Advertise</text>
</g>
<g class="m" font-size="14" fill="#c9cbce">
<text x="315" y="500.500" textLength="141" lengthAdjust="spacingAndGlyphs">Promotions only work</text>
<text x="315" y="519" textLength="156" lengthAdjust="spacingAndGlyphs">as well as the marketing</text>
<text x="582.500" y="500.500" textLength="141" lengthAdjust="spacingAndGlyphs">Promotions only work</text>
<text x="582.500" y="519" textLength="156" lengthAdjust="spacingAndGlyphs">as well as the marketing</text>
<text x="783" y="500.500" textLength="141" lengthAdjust="spacingAndGlyphs">Promotions only work</text>
<text x="783" y="519" textLength="156" lengthAdjust="spacingAndGlyphs">as well as the marketing</text>
</g>
</svg>
<svg class="s" style="left:768px;top:512px" viewBox="0 0 1024 576">
<defs><linearGradient id="g12" x1="0" y1="1" x2="1" y2="0"><stop offset="0" stop-color="#f9a03c"/><stop offset=".25" stop-color="#ee4a55"/><stop offset=".6" stop-color="#d02e8c"/><stop offset="1" stop-color="#7a48c4"/></linearGradient><linearGradient id="g12h" x1="0" y1="0" x2="1" y2="0"><stop offset="0" stop-color="#f68a3a"/><stop offset=".3" stop-color="#ea4560"/><stop offset=".7" stop-color="#c9309a"/><stop offset="1" stop-color="#8a44c0"/></linearGradient></defs>
<rect width="1024" height="576" fill="#fff"/>
<text x="513.500" y="89" class="b m" font-size="59" fill="#111" stroke="#111" stroke-width="1.700" textLength="453" lengthAdjust="spacingAndGlyphs">Social Media Infographic</text>
<rect x="72" y="119" width="880" height="404.500" fill="#f0f0f0"/>
<text x="328.0" y="331.2" font-size="76.8" font-weight="bold" fill="#000" fill-opacity=".16" textLength="416" lengthAdjust="spacingAndGlyphs">TECHMALL</text>
<rect x="72" y="119" width="440" height="40.500" fill="#3c5aa6"/><rect x="512" y="119" width="440" height="40.500" fill="url(#g12h)"/>
<rect x="72" y="316" width="440" height="40" fill="#1da1f2"/><rect x="512" y="316" width="440" height="40" fill="#0a76b6"/>
<rect x="510.500" y="119" width="4" height="404.500" fill="#d5d5d5" opacity=".8"/>
<circle cx="158" cy="238" r="68" fill="#3c5aa6"/><circle cx="158" cy="238" r="56" fill="#b9b9b9"/><path d="M158 238L158.0 181.0A57 57 0 0 1 214.8 243.0Z" fill="#3c5aa6"/><g fill="#fff" opacity=".85"><circle cx="158" cy="190" r="2.500"/><circle cx="206" cy="238" r="2.500"/><circle cx="158" cy="286" r="2.500"/><circle cx="110" cy="238" r="2.500"/></g>
<circle cx="618.5" cy="238" r="68" fill="url(#g12)"/><circle cx="618.5" cy="238" r="56" fill="#b9b9b9"/><path d="M618.5 238L618.5 295.0A57 57 0 0 1 561.5 238.0Z" fill="url(#g12)"/><g fill="#fff" opacity=".85"><circle cx="618.5" cy="190" r="2.500"/><circle cx="666.5" cy="238" r="2.500"/><circle cx="618.5" cy="286" r="2.500"/><circle cx="570.5" cy="238" r="2.500"/></g>
<circle cx="158" cy="440.5" r="68" fill="#1da1f2"/><circle cx="158" cy="440.5" r="56" fill="#b9b9b9"/><path d="M158 440.5L119.9 398.1A57 57 0 0 1 158.0 383.5Z" fill="#1da1f2"/><g fill="#fff" opacity=".85"><circle cx="158" cy="392.5" r="2.500"/><circle cx="206" cy="440.5" r="2.500"/><circle cx="158" cy="488.5" r="2.500"/><circle cx="110" cy="440.5" r="2.500"/></g>
<circle cx="618.5" cy="440.5" r="68" fill="#0a76b6"/><circle cx="618.5" cy="440.5" r="56" fill="#b9b9b9"/><path d="M618.5 440.5L580.4 482.9A57 57 0 0 1 618.5 383.5Z" fill="#0a76b6"/><g fill="#fff" opacity=".85"><circle cx="618.5" cy="392.5" r="2.500"/><circle cx="666.5" cy="440.5" r="2.500"/><circle cx="618.5" cy="488.5" r="2.500"/><circle cx="570.5" cy="440.5" r="2.500"/></g>
<text x="158" y="262" class="b m" font-size="66" fill="#fff">f</text>
<rect x="598" y="217.500" width="41" height="41" rx="10" fill="none" stroke="#fff" stroke-width="4.500"/><circle cx="618.500" cy="238" r="9" fill="none" stroke="#fff" stroke-width="4.500"/><circle cx="630" cy="226.500" r="2.500" fill="#fff"/>
<use href="#bird" fill="#fff" transform="translate(128 414) scale(2.400)"/>
<text x="618" y="465" class="b m" font-size="62" fill="#fff" textLength="48" lengthAdjust="spacingAndGlyphs">in</text>
<g class="b" font-size="19" fill="#fff" stroke="#fff" stroke-width=".45">
<text x="108" y="145.500" textLength="153" lengthAdjust="spacingAndGlyphs">Facebook Best Posting</text>
<text x="543" y="145.500" textLength="158" lengthAdjust="spacingAndGlyphs">Instagram Best Posting</text>
<text x="108" y="343" textLength="137" lengthAdjust="spacingAndGlyphs">Twitter Best Posting</text>
<text x="543" y="343" textLength="147" lengthAdjust="spacingAndGlyphs">Linkedin Best Posting</text>
</g>
<g class="b" font-size="19" fill="#111" stroke="#111" stroke-width=".45">
<text x="248" y="209.500" textLength="126" lengthAdjust="spacingAndGlyphs">12.00 Am - 3.30 Pm</text>
<text x="708" y="209.500" textLength="120" lengthAdjust="spacingAndGlyphs">6.00 Pm - 9.00 Pm</text>
<text x="248" y="411" textLength="133" lengthAdjust="spacingAndGlyphs">10.00 Pm - 12.00 Pm</text>
<text x="708" y="411" textLength="123" lengthAdjust="spacingAndGlyphs">8.30 Pm - 12.00 Am</text>
</g>
<g font-size="12" fill="#4a4a4a">
<text x="248" y="232" textLength="215" lengthAdjust="spacingAndGlyphs">Lorem ipsum dolor sit amet, consectetur</text>
<text x="248" y="254.5" textLength="208" lengthAdjust="spacingAndGlyphs">adipiscing elit. Aenean sit amet ultrices</text>
<text x="248" y="277" textLength="191" lengthAdjust="spacingAndGlyphs">sem. Donec non elit ac tellus lacinia</text>
<text x="248" y="434.5" textLength="215" lengthAdjust="spacingAndGlyphs">Lorem ipsum dolor sit amet, consectetur</text>
<text x="248" y="457.0" textLength="208" lengthAdjust="spacingAndGlyphs">adipiscing elit. Aenean sit amet ultrices</text>
<text x="248" y="479.5" textLength="191" lengthAdjust="spacingAndGlyphs">sem. Donec non elit ac tellus lacinia</text>
<text x="708" y="232" textLength="215" lengthAdjust="spacingAndGlyphs">Lorem ipsum dolor sit amet, consectetur</text>
<text x="708" y="254.5" textLength="208" lengthAdjust="spacingAndGlyphs">adipiscing elit. Aenean sit amet ultrices</text>
<text x="708" y="277" textLength="191" lengthAdjust="spacingAndGlyphs">sem. Donec non elit ac tellus lacinia</text>
<text x="708" y="434.5" textLength="215" lengthAdjust="spacingAndGlyphs">Lorem ipsum dolor sit amet, consectetur</text>
<text x="708" y="457.0" textLength="208" lengthAdjust="spacingAndGlyphs">adipiscing elit. Aenean sit amet ultrices</text>
<text x="708" y="479.5" textLength="191" lengthAdjust="spacingAndGlyphs">sem. Donec non elit ac tellus lacinia</text>
</g>
</svg>
<svg class="s" style="left:0;top:768px" viewBox="0 0 1024 576">
<rect width="512" height="576" fill="#f8aa1f"/>
<rect x="512" width="512" height="576" fill="#62b5d2"/>
<text x="867.2" y="592.4" font-size="76.8" font-weight="bold" fill="#000" fill-opacity=".16" textLength="416" lengthAdjust="spacingAndGlyphs">TECHMALL</text>
<text x="511.500" y="88" class="b m" font-size="60" fill="#fff" textLength="303" lengthAdjust="spacingAndGlyphs">Gadgets Activity</text>
<g class="b" fill="#fff" stroke="#fff" stroke-width=".4">
<text x="295" y="190" class="e" font-size="18" textLength="114" lengthAdjust="spacingAndGlyphs">User Teen Active</text>
<text x="295" y="238" class="e" font-size="48" stroke="#fff" stroke-width=".6" textLength="82" lengthAdjust="spacingAndGlyphs">415K</text>
<text x="732" y="190" font-size="18" textLength="118" lengthAdjust="spacingAndGlyphs">User Adult Active</text>
<text x="732" y="238" font-size="48" stroke="#fff" stroke-width=".6" textLength="91" lengthAdjust="spacingAndGlyphs">334K</text>
</g>
<g font-size="12" fill="#fde6bd" class="e">
<text x="295" y="262" textLength="215" lengthAdjust="spacingAndGlyphs">Lorem ipsum dolor sit amet, consectetur</text>
<text x="295" y="284" textLength="208" lengthAdjust="spacingAndGlyphs">adipiscing elit. Aenean sit amet ultrices</text>
<text x="295" y="306" textLength="191" lengthAdjust="spacingAndGlyphs">sem. Donec non elit ac tellus lacinia</text>
</g>
<g font-size="12" fill="#d9edf6">
<text x="732" y="262" textLength="215" lengthAdjust="spacingAndGlyphs">Lorem ipsum dolor sit amet, consectetur</text>
<text x="732" y="284" textLength="208" lengthAdjust="spacingAndGlyphs">adipiscing elit. Aenean sit amet ultrices</text>
<text x="732" y="306" textLength="191" lengthAdjust="spacingAndGlyphs">sem. Donec non elit ac tellus lacinia</text>
</g>
<!-- teen -->
<path d="M320 291q-2-50 22-72q22-14 42-16h22q22 6 32 26q14 30 13 62z" fill="#f6dd9f"/>
<path d="M378 205q14 16 32 0l-3-16h-26z" fill="#ea8048"/>
<ellipse cx="394" cy="184" rx="22" ry="28" fill="#f28c55"/>
<path d="M372 176q-6-32 14-40q24-8 44 1q10 6 5 19q-6 11-15 9q-16-9-32-4q-6 9-7 20q-5 3-9-5z" fill="#133c49"/>
<path d="M366 176q-3-46 30-50q27-2 35 23" fill="none" stroke="#fff" stroke-width="4"/>
<rect x="360" y="162" width="11" height="26" rx="5.500" fill="#fff"/>
<path d="M383 196q11 9 22-2q-6 17-22 2z" fill="#fff"/>
<path d="M368 262q10-14 24-16l16 4q6 6-2 10l-18 4q-12 6-20-2z" fill="#ef8852"/>
<path d="M400 282l14-12q8-4 14 0l-6 12z" fill="#ef8852"/>
<path d="M402 276l14-10 10 2-16 12z" fill="#1c2a35"/>
<!-- adult -->
<path d="M584 306v-50q2-38 34-50q20-4 44-2q36 6 44 46q4 30 2 56z" fill="#9fcbe9"/>
<ellipse cx="609" cy="209" rx="28" ry="31" transform="rotate(-20 609 209)" fill="#f0814f"/>
<path d="M562 190q-3-24 20-33q22-10 42 7q9 11 4 26q-3 8-7 2q-2-12-12-14q-14-2-24 10q-10 7-23 2z" fill="#133c49"/>
<path d="M598 226q10 8 19-4q-2 18-19 4z" fill="#fff"/>
<path d="M548 279q4-12 16-10l40 3q22 1 24 10l-2 10h-74z" fill="#f0814f"/>
<path d="M543 257l15-6 18 32-14 6z" fill="#1c2a35"/>
<!-- ribbons -->
<path d="M311 306h55v40h-55l14-20z" fill="#a9770f"/>
<path d="M338 331l28 15v-15z" fill="#7d5808"/>
<path d="M338 294q70-6 138 0v38q-68-6-138 0z" fill="#c68c14"/>
<path d="M713 306h-55v40h55l-14-20z" fill="#236d9c"/>
<path d="M686 331l-28 15v-15z" fill="#16506f"/>
<path d="M548 294q70-6 138 0v38q-70-6-138 0z" fill="#2f86b8"/>
<circle cx="512.500" cy="317.500" r="43.500" fill="#fff"/>
<g class="b" fill="#fff" font-size="31"><text x="396" y="320" textLength="49" lengthAdjust="spacingAndGlyphs">Teen</text><text x="572" y="320" textLength="56" lengthAdjust="spacingAndGlyphs">Adult</text></g>
<text x="512" y="335" class="b m" font-size="47" fill="#1a1a1a" stroke="#1a1a1a" stroke-width=".8" textLength="44" lengthAdjust="spacingAndGlyphs">VS</text>
<g class="b m" font-size="18" fill="#fff" stroke="#fff" stroke-width=".5">
<text x="275" y="384" textLength="86" lengthAdjust="spacingAndGlyphs">Teen Activity</text>
<text x="766" y="384" textLength="92" lengthAdjust="spacingAndGlyphs">Adult Activity</text>
<text x="101" y="512" textLength="62" lengthAdjust="spacingAndGlyphs">Studying</text>
<text x="213.500" y="512" textLength="97" lengthAdjust="spacingAndGlyphs">Make A friend</text>
<text x="327.500" y="512" textLength="55" lengthAdjust="spacingAndGlyphs">Gaming</text>
<text x="440" y="512" textLength="104" lengthAdjust="spacingAndGlyphs">Wacthing Video</text>
<text x="596" y="512" textLength="88" lengthAdjust="spacingAndGlyphs">Photography</text>
<text x="708.500" y="512" textLength="87" lengthAdjust="spacingAndGlyphs">Buy And Sell</text>
<text x="822.500" y="512" textLength="45" lengthAdjust="spacingAndGlyphs">Invest</text>
<text x="936.500" y="512" textLength="67" lengthAdjust="spacingAndGlyphs">Find Love</text>
</g>
<g fill="#fff"><circle cx="100" cy="444" r="33"/><circle cx="213" cy="444" r="33"/><circle cx="327" cy="444" r="33"/><circle cx="440" cy="444" r="33"/><circle cx="595" cy="444" r="33"/><circle cx="708" cy="444" r="33"/><circle cx="822" cy="444" r="33"/><circle cx="936" cy="444" r="33"/></g>
<!-- mini icons -->
<g>
<rect x="82" y="456" width="38" height="4" fill="#8a7fc0"/><rect x="84" y="444" width="17" height="12" fill="#f5b041"/><rect x="107" y="430" width="2.500" height="27" fill="#8a8a96"/><path d="M103 424h9l5 11h-19z" fill="#8d86b8"/><rect x="86" y="440" width="8" height="4" fill="#e9d9a8"/>
<circle cx="203" cy="434" r="7" fill="#f2a03c"/><path d="M191 460q0-17 12-17q12 0 12 17z" fill="#f2a03c"/><circle cx="225" cy="433" r="7.500" fill="#3f9fd6"/><path d="M212 460q0-18 13-18q13 0 13 18z" fill="#3f9fd6"/><rect x="208" y="448" width="8" height="12" rx="2" fill="#e8505b"/>
<circle cx="331" cy="431" r="7" fill="#fff" stroke="#8fc3e3" stroke-width="2.500"/><circle cx="322" cy="449" r="5.500" fill="#fff" stroke="#f3c76a" stroke-width="2.500"/><path d="M312 461q2-7 10-7q8 0 10 7z" fill="#f6dfa8"/><path d="M338 444l6 6" stroke="#cfe3f0" stroke-width="2"/>
<rect x="422" y="426" width="30" height="6" fill="#f8d27a"/><rect x="422" y="433" width="13" height="24" fill="#74c2aa"/><rect x="436" y="433" width="14" height="26" fill="#f6a93a"/><rect x="451" y="430" width="9" height="24" fill="#e88a2a"/><rect x="440" y="438" width="7" height="10" fill="#fff1d0"/>
<rect x="581" y="425" width="36" height="26" rx="2" fill="#f2a53c"/><rect x="585" y="425" width="28" height="7" fill="#8fa8c0"/><rect x="585" y="433" width="28" height="14" fill="#f8d27a"/><rect x="574" y="443" width="28" height="21" rx="2" fill="#2f5d50"/><rect x="578" y="447" width="20" height="13" fill="#9ed3a4"/>
<rect x="694" y="430" width="16" height="26" rx="2" fill="#3c9a5f"/><rect x="713" y="427" width="15" height="22" rx="2" fill="#f29a3c"/><rect x="719" y="422" width="3" height="8" fill="#e8b06a"/><path d="M692 452q8-2 14 2l-4 8h-8z" fill="#f4c9a2"/>
<rect x="808" y="446" width="5" height="16" fill="#5aa878"/><rect x="819" y="438" width="6" height="24" fill="#5aa878"/><rect x="830.500" y="431" width="6" height="31" fill="#5aa878"/><rect x="841" y="426" width="2" height="36" fill="#c8d0d8"/><circle cx="810" cy="433" r="3.500" fill="#f2a03c"/>
<circle cx="922" cy="433" r="7.500" fill="#f5b02e"/><path d="M909 461q0-18 13-18q13 0 13 18z" fill="#f5b02e"/><circle cx="950" cy="433" r="7.500" fill="#4aa6c4"/><path d="M938 461q0-18 12-18q12 0 12 18z" fill="#4aa6c4"/><circle cx="936" cy="447" r="3.500" fill="#e8505b"/>
</g>
</svg>
<svg class="s" style="left:256px;top:768px" viewBox="0 0 1024 576">
<rect width="1024" height="576" fill="#373737"/>
<text x="-156.8" y="592.4" font-size="76.8" font-weight="bold" fill="#000" fill-opacity=".16" textLength="416" lengthAdjust="spacingAndGlyphs">TECHMALL</text>
<text x="512" y="110" class="b m" font-size="43" fill="#fff" textLength="246" lengthAdjust="spacingAndGlyphs">Demography</text>
<g font-size="17" fill="#b9b9b9" class="m">
<text x="512" y="150" textLength="790" lengthAdjust="spacingAndGlyphs">Marketers must link the price to the real and perceived value of the product, but they also must</text>
<text x="512" y="174" textLength="688" lengthAdjust="spacingAndGlyphs">take into account supply costs, seasonal discounts, and prices used by competitors.</text>
</g>
<g fill="#505050"><rect x="69" y="313.500" width="257" height="4"/><rect x="69" y="401.500" width="257" height="4"/><rect x="69" y="496.500" width="257" height="4"/><rect x="697" y="313.500" width="258" height="4"/><rect x="697" y="401.500" width="258" height="4"/><rect x="697" y="496.500" width="258" height="4"/></g>
<rect x="195.500" y="312" width="130.500" height="7" rx="3" fill="#19c39c"/>
<rect x="121" y="400" width="205" height="7" rx="3" fill="#19c39c"/>
<rect x="275.500" y="495" width="50.500" height="7" rx="3" fill="#1aa3d6"/>
<rect x="697" y="312" width="135" height="7" rx="3" fill="#5a65cc"/>
<rect x="697" y="400" width="205" height="7" rx="3" fill="#1aa8c8"/>
<rect x="697" y="495" width="51" height="7" rx="3" fill="#86a3f2"/>
<g fill="none" stroke-width="3" stroke-linejoin="round" stroke-linecap="round">
<g stroke="#1cb695"><path d="M279 273h9v20h-9zM288 275q8-6 10-20q6-2 7 4q0 6-2 11h11q5 1 4 6l-3 14q-1 4-5 4h-22"/>
<path d="M280 366q0-15 18-15q19 0 19 15q0 14-19 14q-4 0-7 2l-7 4l1-9q-5-4-5-11z"/><path d="M290 366v.500M298 366v.500M306 366v.500"/></g>
<g stroke="#1a9cc0"><rect x="282" y="448" width="34" height="22" rx="2"/><path d="M277 476h44"/></g>
<g stroke="#4b56b4"><rect x="718" y="252" width="24" height="42" rx="3"/></g>
<g stroke="#1a9ab6"><path d="M701 369.500q28-32 56 0q-28 32-56 0z"/><circle cx="729" cy="369.500" r="9"/><circle cx="729" cy="369.500" r="2.500"/></g>
<g stroke="#8aa4f0"><path d="M729 436a11 11 0 0 1 6 20v20q0 4-6 4q-6 0-6-4v-20a11 11 0 0 1 6-20z"/><circle cx="729" cy="446" r="2.500"/></g>
</g>
<g fill="#19a9cf"><circle cx="425" cy="301.500" r="30"/><path d="M393 425v-62a25 25 0 0 1 25-25h14a25 25 0 0 1 25 25v62z"/><g fill="none" stroke="#19a9cf" stroke-width="26" stroke-linecap="round" stroke-linejoin="round"><path d="M408 356l-34 36M442 356l35 36M406 428l-17 24l12 17M444 428l17 24l-12 17"/></g></g>
<g fill="#7b9cf0"><circle cx="592.500" cy="301.500" r="30"/><ellipse cx="558" cy="279" rx="18" ry="10" transform="rotate(-25 558 279)"/><ellipse cx="627" cy="279" rx="18" ry="10" transform="rotate(25 627 279)"/><path d="M562 428l4-66a25 25 0 0 1 24-25h5a25 25 0 0 1 24 25l4 66z"/><g fill="none" stroke="#7b9cf0" stroke-width="26" stroke-linecap="round" stroke-linejoin="round"><path d="M578 354l-34 38M607 354l35 38M574 432l-17 24l12 17M611 432l17 24l-12 17"/></g></g>
<path d="M412 425h26l-4 12h-18zM578 428h29l-6 12h-17z" fill="#373737"/>
<g class="b" font-size="19" fill="#fff">
<text x="259.500" y="262.500" class="e" textLength="85" lengthAdjust="spacingAndGlyphs">Your Title</text>
<text x="259.500" y="351.500" class="e" textLength="85" lengthAdjust="spacingAndGlyphs">Your Title</text>
<text x="259.500" y="451" class="e" textLength="85" lengthAdjust="spacingAndGlyphs">Your Title</text>
<text x="765.500" y="262.500" textLength="85" lengthAdjust="spacingAndGlyphs">Your Title</text>
<text x="765.500" y="351" textLength="85" lengthAdjust="spacingAndGlyphs">Your Title</text>
<text x="765.500" y="447" textLength="85" lengthAdjust="spacingAndGlyphs">Your Title</text>
</g>
<g class="b" font-size="13.500" fill="#d4d4d4">
<text x="259.500" y="285" class="e" textLength="126" lengthAdjust="spacingAndGlyphs">Refers to a good or</text>
<text x="259.500" y="302.500" class="e" textLength="139" lengthAdjust="spacingAndGlyphs">service being offered</text>
<text x="259.500" y="375.500" class="e" textLength="126" lengthAdjust="spacingAndGlyphs">Refers to a good or</text>
<text x="259.500" y="393" class="e" textLength="139" lengthAdjust="spacingAndGlyphs">service being offered</text>
<text x="259.500" y="473.500" class="e" textLength="126" lengthAdjust="spacingAndGlyphs">Refers to a good or</text>
<text x="259.500" y="491" class="e" textLength="139" lengthAdjust="spacingAndGlyphs">service being offered</text>
<text x="764" y="286" textLength="126" lengthAdjust="spacingAndGlyphs">Refers to a good or</text>
<text x="764" y="303.500" textLength="138" lengthAdjust="spacingAndGlyphs">service being offered</text>
<text x="764" y="374" textLength="126" lengthAdjust="spacingAndGlyphs">Refers to a good or</text>
<text x="764" y="392.500" textLength="138" lengthAdjust="spacingAndGlyphs">service being offered</text>
<text x="764" y="470.500" textLength="126" lengthAdjust="spacingAndGlyphs">Refers to a good or</text>
<text x="764" y="488" textLength="138" lengthAdjust="spacingAndGlyphs">service being offered</text>
</g>
</svg>
<svg class="s" style="left:512px;top:768px" viewBox="0 0 1024 576">
<defs>
<path id="wman" d="M414.3 163.9L429.2 169.0L433.1 186.6L429.2 206.1L433.1 215.9L460.4 231.5L470.2 245.2L470.2 284.2L462.4 307.7L446.8 319.4L446.8 338.9L458.5 370.2L483.9 415.1L498.7 420.2L495.6 428.8L466.3 453.0L462.4 450.2L468.2 436.6L448.7 401.4L425.3 358.5L415.5 381.9L396.0 440.5L394.0 452.2L353.0 452.2L347.9 444.4L370.6 436.6L386.2 397.5L399.9 331.1L401.1 284.2L396.0 274.5L366.7 266.7L355.0 253.0L358.9 249.9L370.6 256.9L396.0 258.9L403.8 241.3L411.6 221.7L403.8 212.0L397.2 202.2L394.8 182.7L399.9 170.2Z"/><path id="wwom" d="M595.2 161.2L581.5 167.1L577.6 186.6L571.7 206.1L565.1 219.8L565.1 229.6L565.9 245.2L567.8 276.4L562.0 303.8L565.9 323.3L565.9 329.2L542.5 329.2L528.8 374.1L546.4 383.8L546.4 401.4L542.5 440.5L541.7 454.2L585.4 455.3L589.3 450.2L565.9 440.5L571.7 393.6L593.2 397.5L603.0 381.9L612.8 401.4L628.4 444.4L636.2 453.0L669.4 434.6L671.4 428.8L644.0 430.7L624.5 378.0L612.8 315.5L610.8 276.4L614.7 249.1L622.5 245.2L624.5 219.8L616.7 206.1L610.8 186.6L612.8 171.0L605.0 162.4Z"/>
<path id="hg" d="M0 0H30.500V5Q30 16 18 22.500L30.500 40V45H0V40L12.500 22.500Q.5 16 0 5Z"/>
<clipPath id="c15a"><rect x="340" y="150" width="170" height="115.500"/></clipPath><clipPath id="c15b"><rect x="340" y="265.500" width="170" height="200"/></clipPath>
<clipPath id="c15c"><rect x="520" y="150" width="160" height="77.500"/></clipPath><clipPath id="c15d"><rect x="520" y="227.500" width="160" height="240"/></clipPath>
<clipPath id="c15e"><rect x="0" y="-5" width="15.250" height="60"/></clipPath>
</defs>
<rect width="1024" height="576" fill="#313131"/>
<text x="821.6" y="429.6" font-size="76.8" font-weight="bold" fill="#000" fill-opacity=".16" textLength="416" lengthAdjust="spacingAndGlyphs">TECHMALL</text>
<text x="513.500" y="89" class="b m" font-size="59" fill="#fff" stroke="#fff" stroke-width="1.700" textLength="453" lengthAdjust="spacingAndGlyphs">Social Media Infographic</text>
<g stroke-linejoin="round" stroke-width="3"><use href="#wman" fill="#bcbcbc" stroke="#bcbcbc" clip-path="url(#c15a)"/><use href="#wman" fill="#e01f2d" stroke="#e01f2d" clip-path="url(#c15b)"/><use href="#wwom" fill="#bcbcbc" stroke="#bcbcbc" clip-path="url(#c15c)"/><use href="#wwom" fill="#a54bb0" stroke="#a54bb0" clip-path="url(#c15d)"/></g>
<g fill="#e01f2d"><use href="#hg" x="97" y="327.300"/><use href="#hg" x="134.5" y="327.300"/><use href="#hg" x="171.5" y="327.300"/><use href="#hg" x="208.5" y="327.300"/></g>
<use href="#hg" x="245" y="327.300" fill="#c9c9c9"/>
<g fill="#c9c9c9"><use href="#hg" x="779.2" y="327.300"/><use href="#hg" x="816.2" y="327.300"/><use href="#hg" x="852.7" y="327.300"/></g>
<g fill="#a54bb0"><use href="#hg" x="704.7" y="327.300"/><use href="#hg" x="742.2" y="327.300"/><use href="#hg" x="779.2" y="327.300" clip-path="url(#c15e)"/></g>
<g class="b" fill="#fff" font-size="18" stroke="#fff" stroke-width=".45"><text x="92.3" y="151.500" textLength="67" lengthAdjust="spacingAndGlyphs">Teen User</text><text x="92.3" y="302" textLength="92" lengthAdjust="spacingAndGlyphs">Wasting Time</text><text x="92.3" y="418.500" textLength="75" lengthAdjust="spacingAndGlyphs">Population</text><text x="291.3" y="349.500" font-size="29" textLength="25" lengthAdjust="spacingAndGlyphs">6h</text><text x="291.3" y="370" font-size="15" textLength="35" lengthAdjust="spacingAndGlyphs">/Days</text></g><g class="b" fill="#e01f2d" stroke="#e01f2d"><text x="94.3" y="209.500" font-size="65" stroke-width="1" textLength="112" lengthAdjust="spacingAndGlyphs">43%</text><text x="92.3" y="451" font-size="31" stroke-width="0" textLength="148" lengthAdjust="spacingAndGlyphs">156,800,000</text></g><g font-size="12" fill="#ececec"><text x="92.3" y="236" textLength="215" lengthAdjust="spacingAndGlyphs">Lorem ipsum dolor sit amet, consectetur</text><text x="92.3" y="258" textLength="208" lengthAdjust="spacingAndGlyphs">adipiscing elit. Aenean sit amet ultrices</text><text x="92.3" y="474.5" textLength="215" lengthAdjust="spacingAndGlyphs">Lorem ipsum dolor sit amet, consectetur</text><text x="92.3" y="496.5" textLength="208" lengthAdjust="spacingAndGlyphs">adipiscing elit. Aenean sit amet ultrices</text></g>
<g class="b" fill="#fff" font-size="18" stroke="#fff" stroke-width=".45"><text x="700" y="151.500" textLength="72" lengthAdjust="spacingAndGlyphs">Adult User</text><text x="700" y="302" textLength="92" lengthAdjust="spacingAndGlyphs">Wasting Time</text><text x="700" y="418.500" textLength="75" lengthAdjust="spacingAndGlyphs">Population</text><text x="899" y="349.500" font-size="29" textLength="25" lengthAdjust="spacingAndGlyphs">6h</text><text x="899" y="370" font-size="15" textLength="35" lengthAdjust="spacingAndGlyphs">/Days</text></g><g class="b" fill="#a54bb0" stroke="#a54bb0"><text x="702" y="209.500" font-size="65" stroke-width="1" textLength="112" lengthAdjust="spacingAndGlyphs">89%</text><text x="700" y="451" font-size="31" stroke-width="0" textLength="143" lengthAdjust="spacingAndGlyphs">217,800,000</text></g><g font-size="12" fill="#ececec"><text x="700" y="236" textLength="215" lengthAdjust="spacingAndGlyphs">Lorem ipsum dolor sit amet, consectetur</text><text x="700" y="258" textLength="208" lengthAdjust="spacingAndGlyphs">adipiscing elit. Aenean sit amet ultrices</text><text x="700" y="474.5" textLength="215" lengthAdjust="spacingAndGlyphs">Lorem ipsum dolor sit amet, consectetur</text><text x="700" y="496.5" textLength="208" lengthAdjust="spacingAndGlyphs">adipiscing elit. Aenean sit amet ultrices</text></g>
</svg>
<svg class="s" style="left:768px;top:768px" viewBox="0 0 1024 576">
<defs>
<clipPath id="c16"><circle cx="511.500" cy="322.800" r="131.500"/></clipPath>
<linearGradient id="g16" gradientUnits="userSpaceOnUse" x1="415" y1="270" x2="600" y2="195"><stop offset="0" stop-color="#f9803c"/><stop offset=".3" stop-color="#ee3f58"/><stop offset=".65" stop-color="#cc3296"/><stop offset="1" stop-color="#9a58c6"/></linearGradient>
</defs>
<rect width="1024" height="576" fill="#3f3f3f"/>
<text x="-202.4" y="429.6" font-size="76.8" font-weight="bold" fill="#000" fill-opacity=".16" textLength="416" lengthAdjust="spacingAndGlyphs">TECHMALL</text>
<text x="570.0" y="6.8" font-size="76.8" font-weight="bold" fill="#000" fill-opacity=".16" textLength="416" lengthAdjust="spacingAndGlyphs">TECHMALL</text>
<text x="513.500" y="89" class="b m" font-size="59" fill="#fff" stroke="#fff" stroke-width="1.700" textLength="453" lengthAdjust="spacingAndGlyphs">Social Media Infographic</text>
<g clip-path="url(#c16)">
<rect x="380" y="190" width="264" height="266" fill="#a9cfee"/>
<ellipse cx="625" cy="330" rx="9" ry="26" fill="#c4ddf3"/><ellipse cx="611" cy="265" rx="8" ry="18" fill="#bcd9f2"/>
<path d="M373.700 299.700L391.300 257.500L415.900 236.400L421.200 250.400L428.200 264.500L447.500 266.300L468.600 261.0L486.200 262.700L500.300 254.0L514.300 261.0L526.600 268.0L531.900 285.600L524.900 299.700L519.600 313.700L514.300 327.800L503.800 338.300L510.800 352.400L500.300 362.900L493.200 355.900L488.0 370.0L482.700 377.0L475.700 359.400L468.600 341.800L458.100 331.300L449.300 334.800L433.500 359.400L422.900 341.800L415.900 327.800L401.800 326.0L391.300 331.300L373.700 327.800Z" fill="#c7c7c5" stroke="#c7c7c5" stroke-width="3" stroke-linejoin="round"/>
<path d="M500.300 419.200L510.800 408.600L528.400 410.400L538.900 405.100L553.0 412.200L567.100 419.200L570.600 433.200L556.500 447.300L524.900 454.300L503.800 443.800Z" fill="#d3cdc6" stroke="#d3cdc6" stroke-width="4" stroke-linejoin="round"/>
<g fill="#cfdbe6"><ellipse cx="520" cy="375" rx="9" ry="6"/><ellipse cx="548" cy="386" rx="12" ry="5"/><ellipse cx="512" cy="352" rx="4" ry="9"/><ellipse cx="478" cy="385" rx="4" ry="10" transform="rotate(-35 478 385)"/></g>
<path d="M415.900 236.400L421.200 250.400L428.200 264.500L447.500 266.300L468.600 261.0L486.200 262.700L500.300 254.0L514.300 261.0L526.600 268.0L531.900 285.600L540.700 282.100L551.200 264.500L538.900 254.0L553.0 239.900L570.600 234.600L581.100 227.600L595.200 220.600L609.200 204.700L595.200 183.600L415.900 183.600L398.300 222.300Z" fill="url(#g16)" stroke="url(#g16)" stroke-width="2" stroke-linejoin="round"/>
<path d="M579.400 231.100L595.200 222.300L599.400 231.100L588.200 257.500L579.400 254.0L581.800 241.600Z" fill="#d8458c"/>
<path d="M586.400 257.500L595.200 232.900L609.200 231.100L598.700 257.500L589.900 268.0Z" fill="#d7e8f5"/>
<path d="M430.0 312.0L437.700 310.200L439.800 324.300L449.300 331.300L440.500 341.800L433.500 359.400L428.200 357.700L424.700 343.600L416.600 334.800L418.700 326.0L426.400 322.500Z" fill="#000" stroke="#000" stroke-width="2" stroke-linejoin="round"/>
<circle cx="499" cy="375" r="5" fill="#3f55b0"/>
</g>
<g fill="none" stroke-width="2.200" stroke-linejoin="round">
<path d="M361.500 185H410.500L440.500 210" stroke="#b8566e"/>
<path d="M703 209.500H634L547 303L541 305" stroke="#2b8fd6"/>
<path d="M289 386.500H374.500L421 338" stroke="#0c0c0c"/>
<path d="M652 406H530L500 376" stroke="#4058ac"/>
</g>
<use href="#ig" transform="translate(295.500 200.400) scale(.66)"/>
<use href="#tt" transform="translate(227.300 401.800) scale(.66)"/>
<use href="#tw" transform="translate(701 224.600) scale(.66)"/>
<use href="#fb" transform="translate(648.400 422.500) scale(.66)"/>
<g class="b" fill="#fff" stroke="#fff" stroke-width=".4">
<g font-size="17">
<text x="197.500" y="189.500" textLength="158" lengthAdjust="spacingAndGlyphs">Most Popular Social Media</text>
<text x="130" y="392" textLength="157.500" lengthAdjust="spacingAndGlyphs">Most Popular Social Media</text>
<text x="710" y="214.500" textLength="158.500" lengthAdjust="spacingAndGlyphs">Most Popular Social Media</text>
<text x="656" y="411" textLength="157.500" lengthAdjust="spacingAndGlyphs">Most Popular Social Media</text>
</g>
<g font-size="15.500">
<text x="216.500" y="256.500" textLength="67" lengthAdjust="spacingAndGlyphs">Online User</text>
<text x="146.500" y="459" textLength="70" lengthAdjust="spacingAndGlyphs">Online User</text>
<text x="779" y="286" textLength="70.500" lengthAdjust="spacingAndGlyphs">Online User</text>
<text x="725" y="483.500" textLength="69.500" lengthAdjust="spacingAndGlyphs">Online User</text>
</g>
</g>
<g fill="#fff" font-size="39" stroke="#fff" stroke-width=".9">
<text x="215.500" y="234" textLength="69" lengthAdjust="spacingAndGlyphs">55%</text>
<text x="146.500" y="435" textLength="70" lengthAdjust="spacingAndGlyphs">80%</text>
<text x="779" y="263.500" textLength="64" lengthAdjust="spacingAndGlyphs">70%</text>
<text x="727.500" y="462" textLength="68" lengthAdjust="spacingAndGlyphs">60%</text>
</g>
</svg>
</body>
</html>
